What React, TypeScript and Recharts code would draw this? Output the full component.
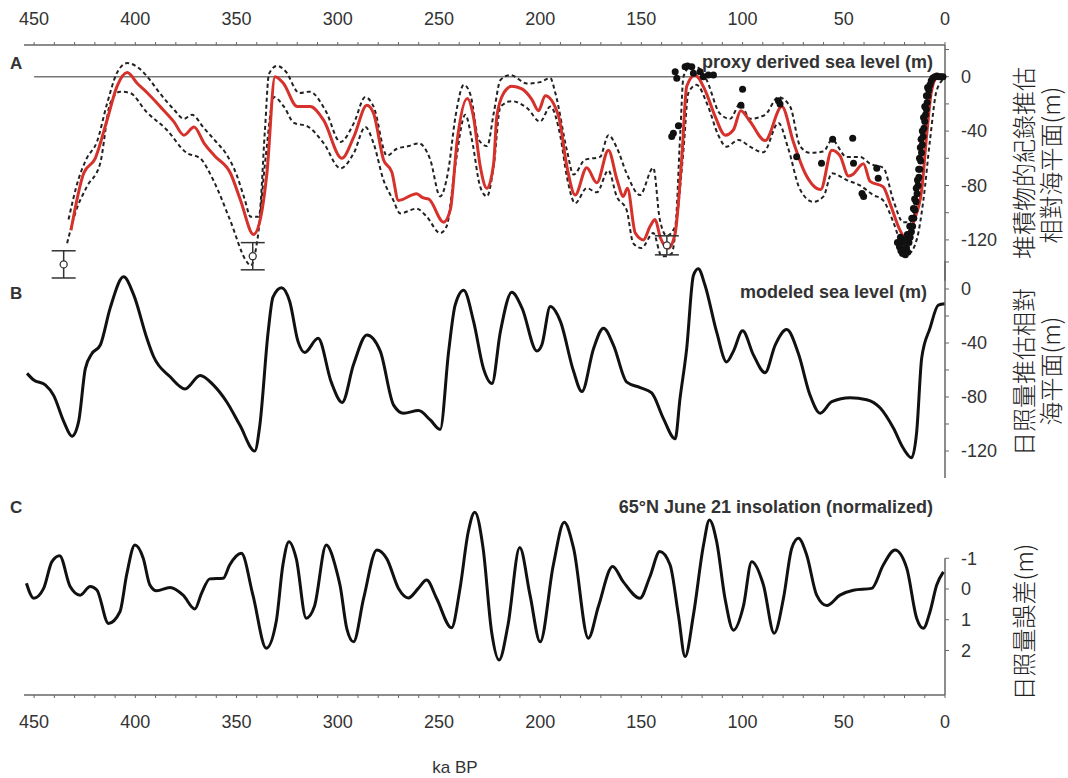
import React from 'react';
import { ComposedChart, Line, Scatter, XAxis, YAxis, ReferenceLine, ErrorBar } from 'recharts';

// x axis (ka BP), shared by the three panels
const kaTicks = [450, 440, 430, 420, 410, 400, 390, 380, 370, 360, 350, 340, 330, 320, 310, 300, 290, 280, 270, 260, 250, 240, 230, 220, 210, 200, 190, 180, 170, 160, 150, 140, 130, 120, 110, 100, 90, 80, 70, 60, 50, 40, 30, 20, 10, 0];
const seaTicks = [20, 0, -20, -40, -60, -80, -100, -120];
const insolTicks = [-1, 0, 1, 2];

// A: proxy derived sea level [ka, m]
const proxyMean: [number, number][] = [
  [431.8, -113], [425.5, -71], [419.8, -60], [414, -32], [409, -7], [404, 3], [399, -5], [394, -12], [387.7, -22],
  [381, -33], [376, -43], [371, -37], [366, -49], [361, -58], [353, -71], [348, -91], [341.6, -116], [338, -103],
  [335, -71], [331, 0], [326.8, -5], [320, -22], [313.6, -22], [307, -32], [298, -60], [292, -44], [285.6, -21],
  [282.3, -27], [277.4, -61], [273.3, -70], [270, -91], [261, -86], [258, -89], [255, -90], [247.7, -107],
  [244.4, -98], [241, -47], [236, -16], [233, -29], [229.6, -66], [226.3, -82], [223, -64], [221.4, -29],
  [218, -12], [214, -7], [209, -9], [204, -17], [200.8, -25], [197.5, -14], [190.9, -29], [186.8, -66],
  [182.7, -87], [177, -67], [172, -78], [166.3, -54], [162, -76], [158.9, -88], [156.9, -82], [153, -115],
  [149, -120], [145.7, -110], [143.2, -105], [140.7, -118], [136.6, -126], [133.3, -115], [130, -59],
  [127.6, -7], [123.5, 1], [118.5, -10], [113.6, -29], [108.6, -43], [104.5, -39], [100.9, -25], [96.3, -33],
  [88.9, -47], [80.6, -22], [74.9, -48], [69.1, -71], [61.4, -83], [55.9, -54], [51.9, -58], [47.7, -73],
  [45.7, -72], [40.3, -64], [37, -77], [30.5, -81], [27.2, -93], [22.2, -113], [18.9, -120], [15.6, -107],
  [11.5, -83], [9, -42], [6.6, -10], [4.1, -1], [0, 0],
];

const proxyUpper: [number, number][] = [
  [433, -105], [428, -75], [424, -60], [419, -48], [414, -20], [409, 3], [404, 10], [398, 6], [393, -2],
  [388, -12], [381, -24], [376, -31], [372, -28], [366, -38], [360, -48], [355, -57], [350, -72], [346, -90],
  [343, -103], [339, -103], [336, -40], [334, 2], [330, 8], [325.8, 4], [319, -12], [314, -11], [306, -25],
  [298.7, -48], [292, -34], [286.4, -15], [282.3, -22], [275.7, -58], [270.8, -53], [265, -51], [260, -49],
  [254.3, -61], [249.4, -88], [245.5, -70], [241.8, -29], [237.7, -6], [234.4, -13.5], [230.3, -46.5],
  [226.2, -51], [222.9, -26.5], [219.6, -2.4], [214.7, 1.2], [206.5, -5], [200, -4], [195, -1], [192.5, -12],
  [186.8, -54], [183.5, -72], [177.8, -61], [170.4, -59], [166.3, -43], [162.2, -52], [157.3, -71],
  [150.7, -87], [144.1, -67], [140.9, -105], [137.4, -117], [133.3, -110], [130.8, -42], [129.2, 0],
  [126, 7], [122.8, 7], [117.9, -2], [111.3, -27], [106.2, -31], [101.2, -20], [96.3, -31], [88.9, -28],
  [82.3, -15], [76.5, -22], [71.6, -51], [66.7, -56], [60, -55], [55.9, -46.5], [48.6, -59], [42, -59],
  [37, -64], [30.5, -67], [25.5, -91], [20.6, -107], [17.3, -107], [14, -95], [10.7, -71], [8.2, -22],
  [5.8, -1], [0, 0],
];

const proxyLower: [number, number][] = [
  [433.7, -122.5], [429.6, -100], [424, -81], [417.4, -64], [412.5, -20], [407.5, -11], [402.6, -12],
  [394.4, -26], [384.5, -39], [374.7, -56], [368, -60], [361.5, -76], [353.3, -105], [345, -136], [343, -139],
  [339.7, -120], [335.6, -59], [331.5, -15], [326.6, -22], [321.6, -34], [315, -36.5], [306.9, -49],
  [298.7, -67.4], [292, -56], [286.4, -37], [282.3, -49], [277.4, -76], [272.5, -91], [269.2, -100.5],
  [261, -97], [256, -103], [249.4, -115], [246.2, -110], [242, -66], [237, -28], [233.7, -46.5], [229.6, -81],
  [226.3, -88], [223, -66], [219.6, -22], [214, -18], [206.5, -23], [200, -33], [195, -22], [190, -44],
  [186.8, -73.5], [182.7, -93], [177, -82], [172, -85], [166.3, -69], [162.2, -88], [157.3, -98], [154, -122.5],
  [150, -126], [144.1, -115], [140, -132], [138.3, -132], [135, -130], [132.5, -105], [129.2, -54],
  [126.8, -12], [122.8, -6], [117, -22], [112, -43], [108, -51.5], [102, -46.5], [96.3, -51.5], [89.7, -55.6],
  [82.3, -34], [77.4, -53], [71.6, -83], [65, -92], [60, -88], [55.9, -71], [48.6, -76], [42, -80],
  [35.4, -87], [30.5, -91], [25.5, -107], [20.6, -127], [18, -130], [14, -120], [10.7, -91], [7.4, -46.5],
  [4.1, -10], [0, -1],
];

const proxyDots: [number, number][] = [
  [133.3, 3.7], [132.5, -1.2], [128.4, 7.4], [127.2, 7.9], [125.1, 7.4], [124.3, 2.5], [121, 3.7], [119.4, 0],
  [116.9, 1.2], [114.4, 1.2], [135, -44], [134.2, -41.6], [131.7, -36], [100, -9.3], [100.8, -21],
  [82.3, -17.6], [81.5, -20], [73.3, -58.8], [61, -63.7], [55.5, -46], [45.6, -45.3], [45.2, -63.7],
  [41, -85.8], [40.2, -88], [33.7, -67.4], [33, -74.7],
  [23.5, -122], [22.5, -125], [21.8, -128], [21, -130], [20.3, -127], [19.6, -131], [19, -126], [18.4, -129],
  [17.8, -122], [17.2, -118], [16.6, -114], [16, -110], [15.4, -104], [14.9, -98], [14.3, -92], [13.8, -86],
  [13.3, -80], [12.9, -74], [12.4, -68], [12, -62], [11.6, -56], [11.2, -50], [10.8, -44], [10.4, -38],
  [10, -33], [9.6, -28], [9.2, -24], [8.8, -19], [8.4, -14], [8, -10], [7.4, -6], [6.8, -3], [6, -1], [5, 0],
  [4, 0.5], [3, 0], [2, 0], [1, 0],
  [22, -118], [20.8, -122], [19.8, -120], [18.6, -116], [17.4, -110], [16.4, -104], [15.6, -97], [15, -90],
  [14.2, -82], [13.6, -76], [13, -68], [12.6, -60], [12.2, -52], [11.8, -46], [11.2, -40], [10.6, -30],
  [10, -22], [9.2, -14], [8.6, -8],
];

// [ka, m, +/- error]
const proxyErr: [number, number, number][] = [[435.4, -138, 10], [342, -132, 10], [137.4, -124, 7]];

// B: modeled sea level [ka, m]
const modeled: [number, number][] = [
  [453.5, -62.5], [450.2, -67.4], [444.5, -71], [440.3, -79], [435.4, -98], [431.3, -109], [428, -98],
  [424.7, -59], [421.5, -48], [417.3, -41.5], [412.4, -14], [405.8, 9], [400.8, -4.4], [394.3, -36.5],
  [391, -50], [382.8, -65], [375.4, -74], [368, -64], [361.5, -71], [354.9, -83.5], [348.3, -101], [341, -120],
  [338.5, -101], [334.4, -32], [332, -6], [327.8, 1], [323.7, -9.4], [319.6, -39], [316.3, -47], [309.7, -36.5],
  [303.2, -69], [297.8, -84], [292.2, -56], [285.6, -34], [279, -46], [272.4, -86], [267.5, -92], [260.1, -90],
  [254.3, -97], [249.4, -104], [245.2, -46], [242, -12], [237.8, -1], [232.9, -24], [228, -59], [223.8, -70],
  [219.7, -32], [214, -2.5], [209, -14], [201.6, -46], [199.2, -41.5], [195, -13], [190, -24], [183.5, -61],
  [179.4, -76], [173.6, -44], [168.7, -29], [163.8, -41.5], [157.2, -69], [150.6, -73], [144.9, -77],
  [139.1, -96], [133.3, -111], [130.9, -81], [127.6, -44], [124.3, 10], [121.9, 15], [118.6, 3], [112.8, -32],
  [107.9, -54], [104.5, -46], [100, -31], [94.6, -49], [88.9, -62], [83.9, -41.5], [78.2, -30], [72.4, -48],
  [66.7, -78.5], [61.7, -92], [55.9, -83.5], [46.9, -80.5], [38.7, -82], [32.1, -88], [25.5, -103],
  [20.6, -118], [16.5, -125], [14, -106], [11.5, -51], [7.4, -29], [3.3, -12], [0, -11],
];

// C: 65N June 21 insolation, normalized [ka, value]
const insolation: [number, number][] = [
  [453.8, -0.19], [450.2, 0.3], [445.3, -0.02], [441.2, -0.89], [437.4, -1.08], [432.2, -0.08], [427.3, 0.2],
  [422.3, -0.08], [419, 0.03], [413.3, 1.12], [407.6, 0.74], [404.3, -0.46], [400.2, -1.43], [396.1, -1.0],
  [392.8, -0.13], [389.5, 0.06], [382.9, -0.05], [376.4, 0.2], [370.6, 0.65], [367.3, 0.14], [363.2, -0.33],
  [356.6, -0.35], [353.4, -0.78], [347.6, -1.16], [341.9, 0.2], [335.3, 1.93], [330.4, 1.06], [327.1, -0.78],
  [324.1, -1.54], [320.5, -0.99], [315.6, 0.95], [311.5, 0.56], [305.7, -1.43], [300.6, -0.6], [298.8, -0.1],
  [295.5, 1.3], [292.2, 1.72], [287.2, 0.3], [280.7, -1.27], [275.8, -0.99], [270, -0.02], [265.1, 0.29],
  [260.2, -0.02], [256.1, -0.29], [251.2, 0.3], [243.8, 1.26], [239.6, -0.02], [235.5, -1.87], [232.3, -2.5],
  [228.2, -1.33], [224, 1.39], [220.3, 2.31], [215.9, 1.17], [210.1, -1.35], [205, 0.2], [200, 1.72],
  [193.5, -0.78], [188.1, -2.17], [183.5, -1.33], [176.2, 1.6], [171.2, 0.56], [164.2, -0.73], [159, -0.24],
  [150.7, 0.3], [145.8, -0.4], [140.9, -1.22], [135.8, -0.78], [131.7, 0.85], [128.4, 2.2], [124.3, 0.85],
  [119.3, -1.43], [116.4, -2.25], [112.8, -1.54], [108.7, 0.3], [104.5, 1.34], [99.6, 0.56], [95.5, -0.89],
  [89.7, -0.13], [84.4, 1.44], [79.8, 0.3], [75.7, -1.33], [72.4, -1.65], [68.3, -1.1], [63.4, 0.2],
  [58.4, 0.54], [51.9, 0.2], [45.3, 0.04], [36.2, -0.02], [30.5, -0.78], [24.7, -1.27], [18.9, -0.68],
  [14, 0.95], [10.7, 1.28], [7.4, 0.74], [4.1, -0.13], [0.8, -0.56],
];

const FONT = "'Liberation Sans', Arial, Helvetica, sans-serif";
const CJK = "'Noto Sans CJK TC', 'Noto Sans CJK SC', sans-serif";
const AXIS = '#666';
const TXT = '#333';

const pts = (arr: [number, number][]) => arr.map(([ka, m]) => ({ ka, m }));
const fmtKa = (v: number) => (v % 50 === 0 ? String(v) : '');
const fmtSea = (v: number) => (v <= 0 && v % 40 === 0 ? String(v) : '');

const tickStyle = { fill: TXT, fontSize: 18, fontFamily: FONT };
const X_DOMAIN: [number, number] = [0, 455];
const MARGIN_X = { left: 24, right: 63 };

const Dot = (p: any) => <circle cx={p.cx} cy={p.cy} r={3.5} fill="#111" />;
const Ring = (p: any) => <circle cx={p.cx} cy={p.cy} r={3.5} fill="#fff" stroke="#333" strokeWidth={1.3} />;

const PanelA = () => (
  <ComposedChart width={1068} height={300} margin={{ top: 15, bottom: 19.3, ...MARGIN_X }}>
    <XAxis type="number" dataKey="ka" domain={X_DOMAIN} reversed orientation="top" height={30}
      ticks={kaTicks} interval={0} tickFormatter={fmtKa} tickSize={3} tickMargin={17}
      axisLine={{ stroke: AXIS, strokeWidth: 1.5 }} tickLine={{ stroke: AXIS }} tick={tickStyle} />
    <YAxis orientation="right" type="number" domain={[-150, 23.3]} ticks={seaTicks} interval={0}
      tickFormatter={fmtSea} width={60} tickSize={4} tickMargin={12}
      axisLine={{ stroke: AXIS, strokeWidth: 1.5 }} tickLine={{ stroke: AXIS }} tick={tickStyle} />
    <ReferenceLine segment={[{ x: 450, y: 0 }, { x: 0, y: 0 }]} stroke="#777" strokeWidth={1.5} />
    <Line data={pts(proxyUpper)} dataKey="m" type="monotone" stroke="#222" strokeWidth={2}
      strokeDasharray="4 3" dot={false} isAnimationActive={false} />
    <Line data={pts(proxyLower)} dataKey="m" type="monotone" stroke="#222" strokeWidth={2}
      strokeDasharray="4 3" dot={false} isAnimationActive={false} />
    <Line data={pts(proxyMean)} dataKey="m" type="monotone" stroke="#d6312b" strokeWidth={3}
      dot={false} isAnimationActive={false} />
    <Scatter data={pts(proxyDots)} dataKey="m" shape={Dot} isAnimationActive={false} />
    <Scatter data={proxyErr.map(([ka, m, err]) => ({ ka, m, err }))} dataKey="m" shape={Ring} isAnimationActive={false}>
      <ErrorBar dataKey="err" direction="y" width={12} stroke="#333" strokeWidth={1.5} />
    </Scatter>
  </ComposedChart>
);

const PanelB = () => (
  <ComposedChart width={1068} height={500} margin={{ top: 261, bottom: 22, ...MARGIN_X }}>
    <XAxis type="number" dataKey="ka" domain={X_DOMAIN} reversed hide />
    <YAxis orientation="right" type="number" domain={[-140, 20.74]} ticks={seaTicks} interval={0}
      tickFormatter={fmtSea} width={60} tickSize={4} tickMargin={12}
      axisLine={{ stroke: AXIS, strokeWidth: 1.5 }} tickLine={{ stroke: AXIS }} tick={tickStyle} />
    <Line data={pts(modeled)} dataKey="m" type="monotone" stroke="#111" strokeWidth={3}
      dot={false} isAnimationActive={false} />
  </ComposedChart>
);

const PanelC = () => (
  <ComposedChart width={1068} height={778} margin={{ top: 495, bottom: 53, ...MARGIN_X }}>
    <XAxis type="number" dataKey="ka" domain={X_DOMAIN} reversed orientation="bottom" height={30}
      ticks={kaTicks} interval={0} tickFormatter={fmtKa} tickSize={3} tickMargin={17}
      axisLine={{ stroke: AXIS, strokeWidth: 1.5 }} tickLine={{ stroke: AXIS }} tick={tickStyle} />
    <YAxis orientation="right" type="number" domain={[-3.06, 3.45]} reversed ticks={insolTicks} interval={0}
      width={60} tickSize={4} tickMargin={12} axisLine={false} tickLine={{ stroke: AXIS }} tick={tickStyle} />
    <ReferenceLine segment={[{ x: 0, y: -1 }, { x: 0, y: 3.45 }]} stroke={AXIS} strokeWidth={1.5} />
    <Line data={pts(insolation)} dataKey="m" type="monotone" stroke="#111" strokeWidth={3}
      dot={false} isAnimationActive={false} />
  </ComposedChart>
);

const abs: React.CSSProperties = { position: 'absolute', left: 0, top: 0 };

export default function App() {
  const vLabel = (x: number, y: number, s: string) => (
    <text x={x} y={y} transform={`rotate(-90 ${x} ${y})`} textAnchor="middle" dominantBaseline="central"
      fontFamily={CJK} fontSize={24} fontWeight={300} fill="#222">{s}</text>
  );
  return (
    <div style={{ position: 'absolute', left: 0, top: 0, width: 1068, height: 778, background: '#fff' }}>
      <div style={abs}><PanelA /></div>
      <div style={abs}><PanelB /></div>
      <div style={abs}><PanelC /></div>
      <svg width={1068} height={778} style={{ ...abs, pointerEvents: 'none' }}>
        <g fontFamily={FONT} fontWeight="bold" fill={TXT} fontSize={17}>
          <text x={10} y={63} dominantBaseline="central">A</text>
          <text x={10} y={293} dominantBaseline="central">B</text>
          <text x={10} y={507} dominantBaseline="central">C</text>
        </g>
        <g fontFamily={FONT} fontWeight="bold" fill={TXT} fontSize={18} textAnchor="end">
          <text x={933} y={62} dominantBaseline="central">proxy derived sea level (m)</text>
          <text x={927} y={292} dominantBaseline="central">modeled sea level (m)</text>
          <text x={933} y={507} dominantBaseline="central">65°N June 21 insolation (normalized)</text>
        </g>
        <text x={455} y={767} textAnchor="middle" dominantBaseline="central" fontFamily={FONT} fontSize={17} fill={TXT}>ka BP</text>
        {vLabel(1022, 163, '堆積物的紀錄推估')}
        {vLabel(1049, 165, '相對海平面(m)')}
        {vLabel(1022, 372, '日照量推估相對')}
        {vLabel(1049, 371, '海平面(m)')}
        {vLabel(1022, 622, '日照量誤差(m)')}
      </svg>
    </div>
  );
}
